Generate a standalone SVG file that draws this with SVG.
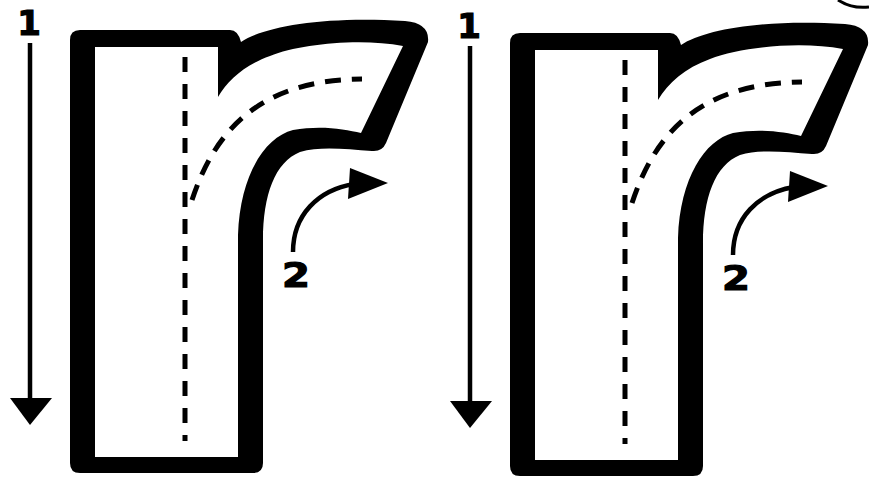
<svg xmlns="http://www.w3.org/2000/svg" xmlns:xlink="http://www.w3.org/1999/xlink" width="869" height="478" viewBox="0 0 869 478">
  <style>
    .outline { fill: #000; }
    .inner { fill: #fff; }
    .guide { fill: none; stroke: #000; stroke-width: 5; }
    .vguide { stroke-dasharray: 15 12; }
    .cguide { stroke-dasharray: 16 11; }
    .conn { fill: none; stroke: #000; stroke-width: 4.5; }
    .head { fill: #000; }
    .label { font-family: "DejaVu Sans", "Liberation Sans", sans-serif; font-weight: 900; font-size: 34px; fill: #000; stroke: #000; stroke-width: 1.2; text-anchor: middle; }
  </style>
  <defs>
    <g id="letter-r">
      <path class="outline" d="M 80 30 H 230 Q 238 30 241 42 C 265 26, 325 16, 405 21 Q 430 23 428 42 L 386 143 Q 382 152 372 151 C 345 149, 320 146, 300 152 C 275 162, 263 195, 263 240 V 463 Q 263 473 253 473 H 80 Q 70 473 70 463 V 40 Q 70 30 80 30 Z"/>
      <path class="inner" d="M 95 47 H 218 V 97 C 228 80, 245 65, 270 56 C 300 44, 360 38, 403 46 L 361 133 C 345 129, 320 125, 293 130 C 265 137, 240 175, 238 235 V 457 H 95 Z"/>
      <line class="guide vguide" x1="185" y1="57" x2="185" y2="441"/>
      <path class="guide cguide" d="M 192 200 C 215 130, 260 80, 362 79"/>
    </g>
    <g id="arrows">
      <line class="conn" x1="30" y1="43" x2="30" y2="402"/>
      <polygon class="head" points="10,398 52,398 30,425"/>
      <path class="conn" d="M 293 252 C 293 215, 318 190, 354 184"/>
      <polygon class="head" points="350,168 348,199 388,183"/>
    </g>
  </defs>
  <rect width="869" height="478" fill="#fff"/>
  <g id="letter-left">
    <use xlink:href="#letter-r" href="#letter-r"/>
  </g>
  <g id="letter-right" transform="translate(440,3)">
    <use xlink:href="#letter-r" href="#letter-r"/>
  </g>
  <g id="connectors">
    <use xlink:href="#arrows" href="#arrows"/>
    <use xlink:href="#arrows" href="#arrows" transform="translate(440,3)"/>
  </g>
  <g id="labels">
    <text class="label" x="29" y="35">1</text>
    <text class="label" x="296" y="287" textLength="28" lengthAdjust="spacingAndGlyphs">2</text>
    <text class="label" x="469" y="38">1</text>
    <text class="label" x="736" y="290" textLength="28" lengthAdjust="spacingAndGlyphs">2</text>
  </g>
  <path d="M 838 0 Q 852 9 869 7" fill="none" stroke="#000" stroke-width="3"/>
</svg>
